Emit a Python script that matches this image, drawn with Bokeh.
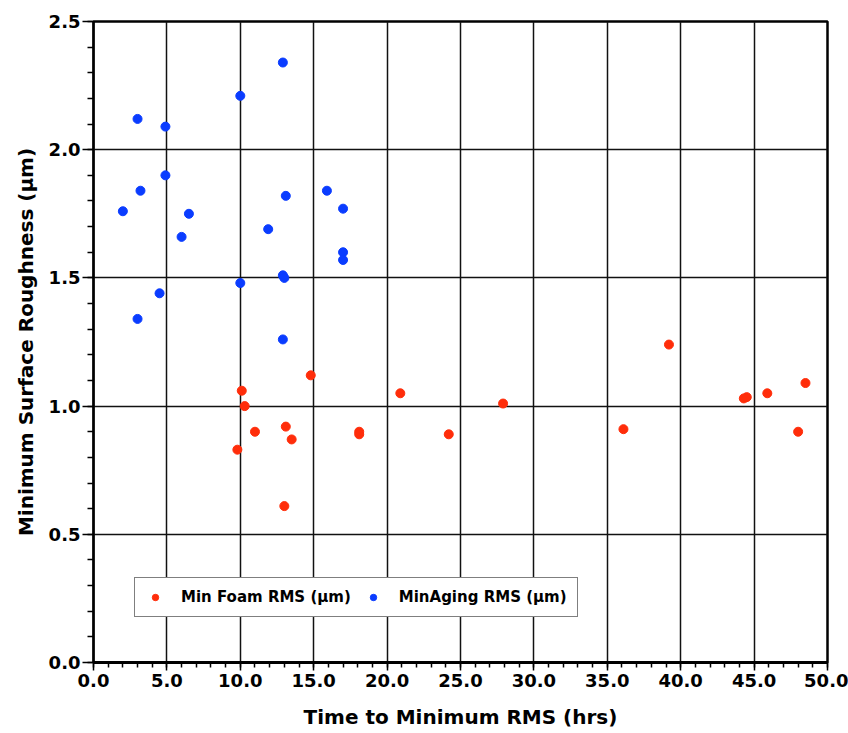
from bokeh.plotting import figure
from bokeh.models import (Range1d, SingleIntervalTicker, PrintfTickFormatter,
                          Legend, LegendItem)
from bokeh.embed import file_html
from bokeh.resources import INLINE

# Minimum RMS roughness of foam samples vs. time to reach the minimum
foam_time = [9.8, 10.1, 10.3, 11.0, 13.0, 13.1, 13.5, 14.8, 18.1, 18.1,
             20.9, 24.2, 27.9, 36.1, 39.2, 44.3, 44.5, 45.9, 48.0, 48.5]
foam_rms = [0.83, 1.06, 1.00, 0.90, 0.61, 0.92, 0.87, 1.12, 0.90, 0.89,
            1.05, 0.89, 1.01, 0.91, 1.24, 1.03, 1.035, 1.05, 0.90, 1.09]

# Minimum RMS roughness during aging
aging_time = [2.0, 3.0, 3.2, 3.0, 4.9, 4.9, 4.5, 6.5, 6.0, 10.0, 10.0,
              11.9, 12.9, 13.1, 12.9, 13.0, 12.9, 15.9, 17.0, 17.0, 17.0]
aging_rms = [1.76, 2.12, 1.84, 1.34, 2.09, 1.90, 1.44, 1.75, 1.66, 2.21, 1.48,
             1.69, 2.34, 1.82, 1.51, 1.50, 1.26, 1.84, 1.77, 1.60, 1.57]

series_labels = ["Min Foam RMS (µm)", "MinAging RMS (µm)"]
x_title = "Time to Minimum RMS (hrs)"
y_title = "Minimum Surface Roughness (µm)"

FONT = "DejaVu Sans"
RED = "#ff2d0a"
BLUE = "#0a3cff"

p = figure(width=848, height=733, output_backend="svg", toolbar_location=None,
           x_range=Range1d(0, 50), y_range=Range1d(0, 2.5),
           min_border_left=93, min_border_right=21,
           min_border_top=21, min_border_bottom=71)
p.background_fill_color = "white"
p.border_fill_color = "white"
p.outline_line_color = "black"
p.outline_line_width = 2.5

xticker = SingleIntervalTicker(interval=5, num_minor_ticks=5)
yticker = SingleIntervalTicker(interval=0.5, num_minor_ticks=5)
p.xaxis.ticker = xticker
p.yaxis.ticker = yticker
p.xgrid.ticker = xticker
p.ygrid.ticker = yticker
for g in (p.xgrid, p.ygrid):
    g.grid_line_color = "#111111"
    g.grid_line_width = 1.5

p.xaxis.formatter = PrintfTickFormatter(format="%.1f")
p.yaxis.formatter = PrintfTickFormatter(format="%.1f")

for ax in (p.xaxis, p.yaxis):
    ax.axis_line_color = "black"
    ax.major_tick_line_color = "black"
    ax.minor_tick_line_color = "black"
    ax.major_tick_line_width = 1.5
    ax.minor_tick_line_width = 1.5
    ax.major_tick_in = 0
    ax.minor_tick_in = 0
    ax.major_label_text_font = FONT
    ax.major_label_text_font_style = "bold"
    ax.major_label_text_font_size = "18px"
    ax.major_label_text_color = "black"
    ax.axis_label_text_font = FONT
    ax.axis_label_text_font_style = "bold"
    ax.axis_label_text_font_size = "20px"
    ax.axis_label_text_color = "black"

p.xaxis.axis_line_width = 3
p.xaxis.major_tick_out = 8
p.xaxis.minor_tick_out = 5
p.xaxis.major_label_standoff = 3
p.xaxis.axis_label = x_title
p.xaxis.axis_label_standoff = 15

p.yaxis.axis_line_width = 2
p.yaxis.major_tick_out = 11
p.yaxis.minor_tick_out = 6
p.yaxis.major_label_standoff = 2
p.yaxis.axis_label = y_title
p.yaxis.axis_label_standoff = 8

r_foam = p.scatter(foam_time, foam_rms, size=9, color=RED, line_color=RED)
r_aging = p.scatter(aging_time, aging_rms, size=9, color=BLUE, line_color=BLUE)

legend = Legend(items=[LegendItem(label=series_labels[0], renderers=[r_foam]),
                       LegendItem(label=series_labels[1], renderers=[r_aging])],
                location=(41, 45), orientation="horizontal")
legend.border_line_color = "black"
legend.border_line_width = 1.5
legend.background_fill_color = "white"
legend.background_fill_alpha = 1.0
legend.padding = 10
legend.margin = 0
legend.spacing = 12
legend.glyph_width = 20
legend.glyph_height = 16
legend.label_height = 16
legend.label_standoff = 16
legend.label_text_font = FONT
legend.label_text_font_style = "bold"
legend.label_text_font_size = "15px"
legend.label_text_color = "black"
p.add_layout(legend, "center")

open("out.html", "w").write(file_html(p, INLINE))
